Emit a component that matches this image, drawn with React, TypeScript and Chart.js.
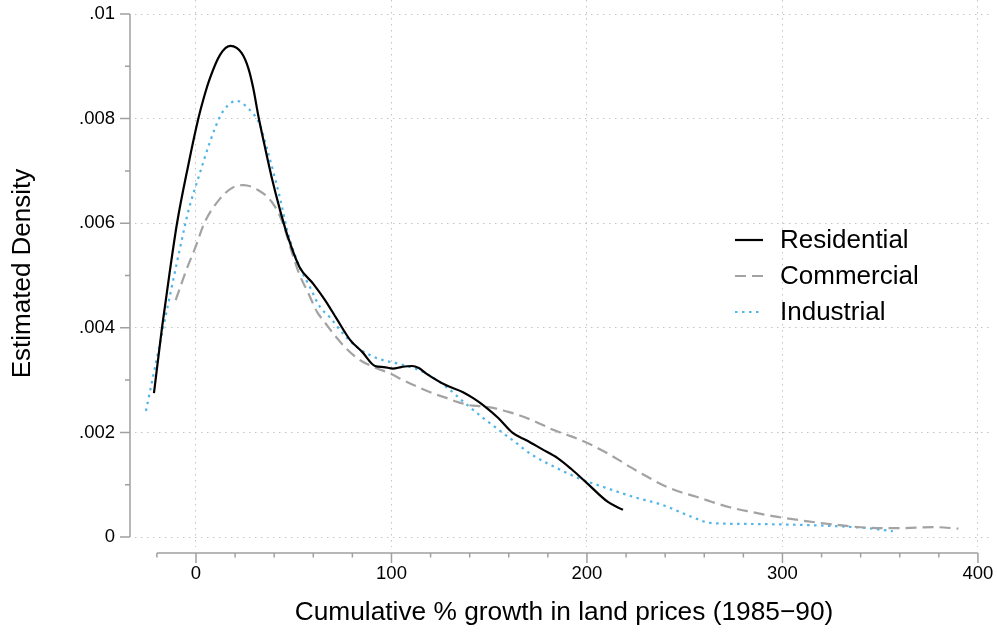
import React, { useEffect, useRef } from 'react';
import { Chart, registerables } from 'chart.js';

Chart.register(...registerables);

const FONT = "'Liberation Sans', Arial, Helvetica, sans-serif";

// ---- data ----
const resX = [-21.5, -17.4, -13.5, -9.7, -4, 1.2, 4, 7.2, 12.3, 17.7, 23.4, 26.8, 29.3, 31.9, 35.3, 38.7, 43, 46.4, 53, 60, 66, 72, 78.8, 85, 91.6, 96, 100.8, 105, 110.5, 114, 118, 128, 136.6, 142, 148, 154.5, 162, 169, 177, 185, 192, 200, 210.7, 218.4];
const resY = [0.00275, 0.0040, 0.00505, 0.0060, 0.0071, 0.0080, 0.0084, 0.00878, 0.00922, 0.00939, 0.00925, 0.00896, 0.00858, 0.00805, 0.00745, 0.00688, 0.00625, 0.00581, 0.00516, 0.00484, 0.00453, 0.00417, 0.00377, 0.00354, 0.00327, 0.00325, 0.00322, 0.00325, 0.00327, 0.00323, 0.00312, 0.0029, 0.00277, 0.00265, 0.00249, 0.00228, 0.00199, 0.00185, 0.00168, 0.00151, 0.0013, 0.00103, 0.00067, 0.00052];

const comX = [-10.4, -5, -0.5, 4.6, 12.3, 18.3, 24.2, 31.9, 38.7, 43.8, 49, 53, 57, 62, 66, 70, 77, 84, 91, 99, 107, 114.6, 121, 128, 134, 140, 146, 152, 159, 166, 174, 182.6, 190, 196.4, 203, 210, 216, 222, 230, 239, 247, 256, 264, 273, 284, 295, 300, 313, 326, 343, 360, 377, 390];
const comY = [0.00453, 0.0051, 0.00552, 0.00603, 0.00647, 0.00667, 0.00673, 0.00663, 0.00641, 0.00606, 0.00545, 0.00501, 0.0047, 0.0043, 0.0041, 0.0039, 0.0036, 0.00338, 0.00325, 0.00313, 0.00298, 0.00285, 0.00275, 0.00266, 0.00258, 0.00252, 0.0025, 0.00247, 0.0024, 0.00232, 0.0022, 0.00205, 0.00195, 0.00186, 0.00175, 0.00161, 0.00148, 0.00134, 0.00117, 0.00099, 0.00087, 0.00077, 0.00067, 0.00057, 0.00048, 0.0004, 0.00037, 0.0003, 0.00024, 0.00018, 0.00017, 0.00019, 0.00016];

const indX = [-25.6, -18.4, -13.3, -8.2, -4, 2, 7.2, 12.3, 16, 20.5, 26.6, 32.7, 36.2, 40.4, 43.8, 46.4, 53, 58, 63.4, 68.5, 75, 82.4, 92.6, 105.9, 116, 128, 137.6, 146.8, 162, 172, 184.5, 198, 206.6, 223.5, 238.9, 254, 263, 281.7, 300, 326, 343, 356.5];
const indY = [0.00241, 0.00371, 0.00462, 0.00552, 0.00622, 0.00696, 0.00756, 0.00804, 0.00824, 0.00834, 0.0082, 0.00788, 0.00744, 0.00686, 0.00635, 0.0059, 0.00516, 0.0048, 0.0044, 0.0042, 0.0039, 0.00363, 0.00342, 0.00329, 0.00316, 0.00287, 0.00256, 0.00228, 0.00185, 0.00157, 0.00132, 0.00109, 0.00098, 0.00077, 0.00061, 0.00038, 0.00027, 0.00025, 0.00024, 0.00021, 0.00017, 0.00011];

const seriesNames = ['Residential', 'Commercial', 'Industrial'];

const xTicks = [0, 100, 200, 300, 400];
const xMinorTicks = [-20, 20, 40, 60, 80, 120, 140, 160, 180, 220, 240, 260, 280, 320, 340, 360, 380];
const yTicks = [0, 0.002, 0.004, 0.006, 0.008, 0.01];
const yTickLabels = ['0', '.002', '.004', '.006', '.008', '.01'];
const yMinorTicks = [0.001, 0.003, 0.005, 0.007, 0.009];

const xAxisTitle = 'Cumulative % growth in land prices (1985\u221290)';
const yAxisTitle = 'Estimated Density';

const AXIS_COLOR = '#a0a0a0';
const GRID_COLOR = '#c4c4c4';
const GRID_DASH = [1.5, 4.5];

const zip = (xs: number[], ys: number[]) => xs.map((x, i) => ({ x, y: ys[i] }));

const stataAxes = {
  id: 'stataAxes',
  afterDraw(chart: any) {
    const { ctx, chartArea } = chart;
    const xs = chart.scales.x;
    const ys = chart.scales.y;
    ctx.save();
    ctx.strokeStyle = AXIS_COLOR;
    ctx.lineWidth = 1.5;
    ctx.setLineDash([]);
    // y axis
    const ax = chartArea.left - 5;
    ctx.beginPath();
    ctx.moveTo(ax, ys.getPixelForValue(yTicks[0]));
    ctx.lineTo(ax, ys.getPixelForValue(yTicks[yTicks.length - 1]));
    for (const v of yTicks) {
      const p = ys.getPixelForValue(v);
      ctx.moveTo(ax - 10, p);
      ctx.lineTo(ax, p);
    }
    for (const v of yMinorTicks) {
      const p = ys.getPixelForValue(v);
      ctx.moveTo(ax - 5, p);
      ctx.lineTo(ax, p);
    }
    ctx.stroke();
    // x axis
    const ay = chartArea.bottom + 6;
    ctx.beginPath();
    ctx.moveTo(xs.getPixelForValue(xMinorTicks[0]), ay);
    ctx.lineTo(xs.getPixelForValue(xTicks[xTicks.length - 1]), ay);
    for (const v of xTicks) {
      const p = xs.getPixelForValue(v);
      ctx.moveTo(p, ay);
      ctx.lineTo(p, ay + 10);
    }
    for (const v of xMinorTicks) {
      const p = xs.getPixelForValue(v);
      ctx.moveTo(p, ay);
      ctx.lineTo(p, ay + 4.5);
    }
    ctx.stroke();

    // legend
    const lx0 = 735;
    const lx1 = 763;
    const tx = 780;
    const rows = [240, 276, 312];
    ctx.font = `26px ${FONT}`;
    ctx.textBaseline = 'middle';
    ctx.textAlign = 'left';
    chart.data.datasets.forEach((ds: any, i: number) => {
      const y = rows[i];
      ctx.strokeStyle = ds.borderColor;
      ctx.lineWidth = ds.borderWidth;
      ctx.setLineDash(ds.borderDash || []);
      ctx.lineDashOffset = 0;
      ctx.beginPath();
      ctx.moveTo(lx0, y);
      ctx.lineTo(lx1, y);
      ctx.stroke();
      ctx.setLineDash([]);
      ctx.fillStyle = '#000';
      ctx.fillText(ds.label, tx, y + 1);
    });
    ctx.restore();
  },
};

export default function App() {
  const ref = useRef<HTMLCanvasElement | null>(null);
  useEffect(() => {
    if (!ref.current) return;
    const chart = new Chart(ref.current, {
      type: 'line',
      data: {
        datasets: [
          {
            label: seriesNames[0],
            data: zip(resX, resY),
            borderColor: '#000000',
            borderWidth: 2.2,
            pointRadius: 0,
            cubicInterpolationMode: 'monotone',
            fill: false,
          },
          {
            label: seriesNames[1],
            data: zip(comX, comY),
            borderColor: '#a3a3a3',
            borderWidth: 2.2,
            borderDash: [11, 6],
            pointRadius: 0,
            cubicInterpolationMode: 'monotone',
            fill: false,
          },
          {
            label: seriesNames[2],
            data: zip(indX, indY),
            borderColor: '#4fb4e8',
            borderWidth: 2.2,
            borderDash: [2.5, 4.5],
            pointRadius: 0,
            cubicInterpolationMode: 'monotone',
            fill: false,
          },
        ],
      },
      options: {
        responsive: false,
        animation: false,
        layout: { padding: { left: 0, right: 4, top: 0, bottom: 0 } },
        plugins: { legend: { display: false }, tooltip: { enabled: false } },
        scales: {
          x: {
            type: 'linear',
            min: -31.2,
            max: 407.7,
            afterBuildTicks: (s: any) => {
              s.ticks = xTicks.map((v) => ({ value: v }));
            },
            afterFit: (s: any) => {
              s.height = 88;
              s.paddingLeft = 0;
              s.paddingRight = 0;
            },
            border: { display: false, dash: GRID_DASH },
            grid: { color: GRID_COLOR, lineWidth: 1, drawTicks: false },
            ticks: {
              padding: 16,
              color: '#000',
              font: { family: FONT, size: 18.5 },
              maxRotation: 0,
              callback: (v: any) => String(v),
            },
            title: {
              display: true,
              text: xAxisTitle,
              color: '#000',
              font: { family: FONT, size: 26.3 },
              padding: { top: 0, bottom: 6 },
            },
          },
          y: {
            type: 'linear',
            min: -0.000191,
            max: 0.010268,
            afterBuildTicks: (s: any) => {
              s.ticks = yTicks.map((v) => ({ value: v }));
            },
            afterFit: (s: any) => {
              s.width = 135;
              s.paddingTop = 0;
              s.paddingBottom = 0;
            },
            border: { display: false, dash: GRID_DASH },
            grid: { color: GRID_COLOR, lineWidth: 1, drawTicks: false },
            ticks: {
              padding: 20,
              color: '#000',
              font: { family: FONT, size: 18.5 },
              callback: (v: any) => {
                const i = yTicks.findIndex((t) => Math.abs(t - v) < 1e-9);
                return i >= 0 ? yTickLabels[i] : '';
              },
            },
            title: {
              display: true,
              text: yAxisTitle,
              color: '#000',
              font: { family: FONT, size: 26 },
              padding: { top: 7, bottom: 0 },
            },
          },
        },
      },
      plugins: [stataAxes],
    } as any);
    return () => chart.destroy();
  }, []);
  return (
    <div style={{ position: 'absolute', left: 0, top: 0, width: 997, height: 635, background: '#fff' }}>
      <canvas ref={ref} width={997} height={635} style={{ display: 'block' }} />
    </div>
  );
}
